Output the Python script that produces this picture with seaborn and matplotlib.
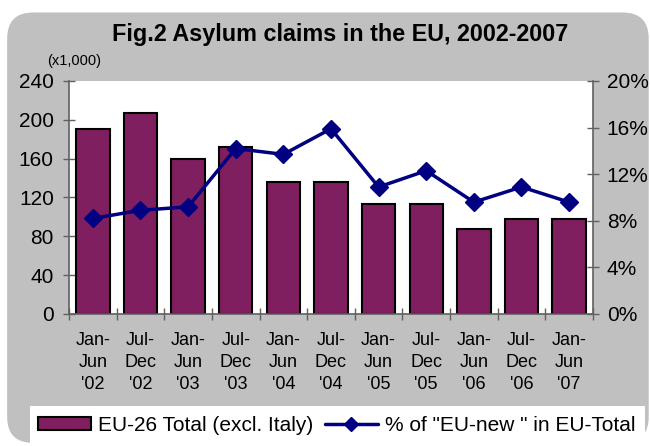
import numpy as np
import pandas as pd
import seaborn as sns
import matplotlib.pyplot as plt
from matplotlib.patches import FancyBboxPatch, Rectangle
from matplotlib.ticker import FixedLocator

# Half-year periods
periods = ["Jan-\nJun\n'02", "Jul-\nDec\n'02", "Jan-\nJun\n'03", "Jul-\nDec\n'03",
           "Jan-\nJun\n'04", "Jul-\nDec\n'04", "Jan-\nJun\n'05", "Jul-\nDec\n'05",
           "Jan-\nJun\n'06", "Jul-\nDec\n'06", "Jan-\nJun\n'07"]
# EU-26 total asylum claims (x1,000)
eu26_total = [191, 207, 160, 172, 136, 136, 113, 113, 88, 98, 98]
# share of "EU-new" in EU total (%)
eu_new_pct = [8.2, 8.9, 9.2, 14.2, 13.7, 15.9, 10.9, 12.3, 9.6, 10.9, 9.6]

left_ticks = [0, 40, 80, 120, 160, 200, 240]
right_ticks = [0, 4, 8, 12, 16, 20]

sns.set_theme(style="white")
plt.rcParams['font.family'] = ['Liberation Sans', 'DejaVu Sans']
plt.rcParams['text.color'] = 'black'
plt.rcParams['xtick.color'] = 'black'
plt.rcParams['ytick.color'] = 'black'

bar_color = '#7F1F5F'
line_color = '#000080'
bg_gray = '#C0C0C0'
axis_gray = '#606060'

df = pd.DataFrame({'period': periods, 'total': eu26_total, 'pct': eu_new_pct})

fig = plt.figure(figsize=(6.5, 4.46), dpi=100, facecolor='white')

# rounded grey chart background
bg = FancyBboxPatch((0.011, 0.007), 0.987, 0.965, boxstyle="round,pad=0,rounding_size=0.04",
                    transform=fig.transFigure, facecolor=bg_gray, edgecolor='none',
                    mutation_aspect=650 / 446, zorder=-2)
fig.patches.append(bg)
# white strip behind the legend
fig.patches.append(Rectangle((0.046, 0.0), 0.946, 0.09, transform=fig.transFigure,
                             facecolor='white', edgecolor='none', zorder=-1))

ax = fig.add_axes([0.1062, 0.296, 0.806, 0.5224])
ax.set_facecolor('white')

sns.barplot(data=df, x='period', y='total', ax=ax, color=bar_color, saturation=1,
            width=0.70, edgecolor='black', linewidth=1.5, zorder=2)
ax.set_xlim(-0.5, len(periods) - 0.5)
ax.set_ylim(0, 240)
ax.set_yticks(left_ticks)
ax.set_xlabel('')
ax.set_ylabel('')

ax2 = ax.twinx()
sns.lineplot(x=np.arange(len(periods)), y=df['pct'], ax=ax2, color=line_color,
             linewidth=2.5, marker='D', markersize=9.5, markeredgecolor=line_color,
             markeredgewidth=1, zorder=3)
ax2.set_ylim(0, 20)
ax2.set_yticks(right_ticks)
ax2.set_yticklabels([f'{t}%' for t in right_ticks])
ax2.set_ylabel('')

# axes styling
for a in (ax, ax2):
    a.spines['top'].set_visible(False)
    for s in ['left', 'right', 'bottom']:
        a.spines[s].set_color(axis_gray)
        a.spines[s].set_linewidth(1.2)
ax.spines['right'].set_visible(False)
ax2.spines['left'].set_visible(False)
ax2.spines['bottom'].set_visible(False)

ax.tick_params(axis='y', direction='inout', length=8, width=1, color=axis_gray,
               labelsize=15, pad=7, left=True)
ax2.tick_params(axis='y', direction='inout', length=8, width=1, color=axis_gray,
                labelsize=15, pad=6, right=True)
ax.xaxis.set_minor_locator(FixedLocator(np.arange(-0.5, len(periods), 1)))
ax.tick_params(axis='x', which='major', length=0, labelsize=13, pad=13)
ax.tick_params(axis='x', which='minor', direction='inout', length=8, width=1,
               color=axis_gray, bottom=True)
for lab in ax.get_xticklabels():
    lab.set_linespacing(1.4)

fig.text(0.524, 0.922, 'Fig.2 Asylum claims in the EU, 2002-2007', ha='center', va='center',
         fontsize=16.8, fontweight='bold')
fig.text(0.072, 0.863, '(x1,000)', ha='left', va='center', fontsize=10.5)

h_bar = plt.Rectangle((0, 0), 1, 1, facecolor=bar_color, edgecolor='black', linewidth=1.5)
h_line = plt.Line2D([], [], color=line_color, linewidth=2.5, marker='D', markersize=7)
fig.legend([h_bar, h_line], ['EU-26 Total (excl. Italy)', '% of "EU-new " in EU-Total'],
           loc='center', bbox_to_anchor=(0.518, 0.047), ncol=2, frameon=False,
           fontsize=15, handlelength=2.55, handleheight=0.6, handletextpad=0.35,
           columnspacing=0.55, borderaxespad=0, borderpad=0)

fig.savefig('out.png', dpi=100, facecolor='white')
